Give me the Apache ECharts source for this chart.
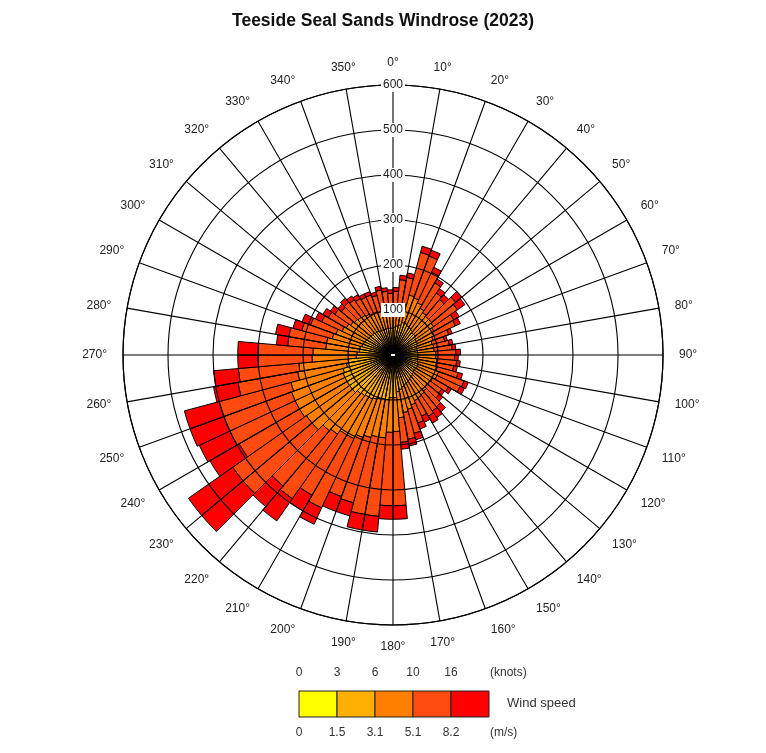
<!DOCTYPE html>
<html>
<head>
<meta charset="utf-8">
<script src="https://cdn.jsdelivr.net/npm/echarts@6/dist/echarts.min.js"></script>
<style>
html,body{margin:0;padding:0;background:#fff;}
#chart{width:766px;height:753px;}
</style>
</head>
<body>
<div id="chart"></div>
<script>
// 5-degree direction bins (start of bin, degrees)
var directions = ['0','5','10','15','20','25','30','35','40','45','50','55','60','65','70','75','80','85',
  '90','95','100','105','110','115','120','125','130','135','140','145','150','155','160','165','170','175',
  '180','185','190','195','200','205','210','215','220','225','230','235','240','245','250','255','260','265',
  '270','275','280','285','290','295','300','305','310','315','320','325','330','335','340','345','350','355'];

// counts per speed class
var calm = [12,12,12,13,13,13,12,12,12,12,12,12,12,11,11,11,11,11,
  11,11,11,12,12,12,12,12,12,12,12,12,13,13,14,14,15,18,
  18,19,19,20,20,20,20,20,20,20,20,20,20,20,20,20,19,18,
  18,16,16,15,14,13,13,12,12,12,12,12,12,12,12,12,12,12];
var light = [50,53,56,62,62,59,58,56,53,53,50,48,48,47,44,44,44,44,
  44,45,45,46,48,48,46,46,48,50,52,54,55,57,60,64,67,77,
  77,81,81,82,85,88,88,90,92,98,98,98,98,98,95,85,81,64,
  62,59,59,57,56,55,53,53,52,52,50,50,48,48,48,48,48,48];
var moderate = [38,43,47,63,60,56,50,47,47,47,48,45,40,37,35,37,37,40,
  40,42,42,44,48,48,44,42,40,43,44,44,44,48,51,52,58,75,
  77,85,85,88,90,97,97,105,108,117,117,122,122,122,120,110,110,98,
  98,75,75,68,65,57,54,50,48,46,46,43,42,42,40,42,40,40];
var fresh = [42,60,60,98,99,75,65,53,49,70,65,51,53,37,29,35,40,45,
  42,44,39,48,60,57,40,32,35,45,44,47,38,43,55,60,55,165,
  163,175,175,150,140,170,155,175,160,200,200,155,160,160,165,135,135,120,
  122,85,85,70,60,50,46,43,38,43,42,40,40,40,37,45,42,37];
var strong = [8,10,10,14,14,12,10,12,14,18,20,14,12,8,6,8,8,10,
  8,8,8,10,10,10,8,8,10,15,18,18,15,14,15,15,15,30,
  30,35,35,30,35,40,40,60,60,120,120,75,75,80,80,55,55,45,
  45,25,30,20,20,15,14,12,10,12,10,10,8,8,8,8,8,8];

var classNames = ['0-1.5 m/s','1.5-3.1 m/s','3.1-5.1 m/s','5.1-8.2 m/s','>8.2 m/s'];
var classColors = ['#FFFF00','#FFB000','#FF8000','#FF4A10','#FF0000'];
var classData = [calm, light, moderate, fresh, strong];

var knotTicks = ['0','3','6','10','16'];
var msTicks = ['0','1.5','3.1','5.1','8.2'];

var chart = echarts.init(document.getElementById('chart'));
var CX = 393, CY = 355, R = 270;
var font = 'Arial, "Liberation Sans", sans-serif';

var series = classData.map(function (d, i) {
  return {
    type: 'bar', coordinateSystem: 'polar', polarIndex: 0, stack: 'speed',
    name: classNames[i], data: d, barCategoryGap: '0%',
    itemStyle: { color: classColors[i], borderColor: '#000', borderWidth: 1 },
    z: 2
  };
});

// legend drawn as graphics
var graphics = [];
var lx = 299, ly = 691, lw = 38, lh = 26;
classColors.forEach(function (c, i) {
  graphics.push({ type: 'rect', shape: { x: lx + i * lw, y: ly, width: lw, height: lh },
    style: { fill: c, stroke: '#222', lineWidth: 1 } });
});
knotTicks.forEach(function (t, i) {
  graphics.push({ type: 'text', x: lx + i * lw, y: 673,
    style: { text: t, fill: '#333', font: '12px ' + font, textAlign: 'center', textVerticalAlign: 'middle' } });
});
msTicks.forEach(function (t, i) {
  graphics.push({ type: 'text', x: lx + i * lw, y: 733,
    style: { text: t, fill: '#333', font: '12px ' + font, textAlign: 'center', textVerticalAlign: 'middle' } });
});
graphics.push({ type: 'text', x: 490, y: 673, style: { text: '(knots)', fill: '#333', font: '12px ' + font, textAlign: 'left', textVerticalAlign: 'middle' } });
graphics.push({ type: 'text', x: 490, y: 733, style: { text: '(m/s)', fill: '#333', font: '12px ' + font, textAlign: 'left', textVerticalAlign: 'middle' } });
graphics.push({ type: 'text', x: 507, y: 703, style: { text: 'Wind speed', fill: '#333', font: '13px ' + font, textAlign: 'left', textVerticalAlign: 'middle' } });

chart.setOption({
  backgroundColor: '#fff',
  animation: false,
  title: {
    text: 'Teeside Seal Sands Windrose (2023)', left: 'center', top: 7,
    textStyle: { fontSize: 17.5, fontWeight: 'bold', color: '#111', fontFamily: font }
  },
  polar: [
    { center: [CX, CY], radius: [0, R] },
    { center: [CX, CY], radius: [0, R] }
  ],
  angleAxis: [
    { polarIndex: 0, type: 'category', data: directions, startAngle: 90, clockwise: true, boundaryGap: true,
      axisLine: { show: false }, axisTick: { show: false }, axisLabel: { show: false }, splitLine: { show: false } },
    { polarIndex: 1, type: 'value', min: 0, max: 360, interval: 10, startAngle: 90, clockwise: true, z: 10,
      axisLine: { show: true, lineStyle: { color: '#000', width: 1.2 } },
      axisTick: { show: false },
      splitLine: { show: true, lineStyle: { color: '#000', width: 1.1 } },
      axisLabel: { show: true, margin: 16, color: '#222', fontSize: 12, fontFamily: font,
        formatter: function (v) { return v === 360 ? '' : v + '°'; } } }
  ],
  radiusAxis: [
    { polarIndex: 0, type: 'value', min: 0, max: 600, show: false,
      axisLine: { show: false }, axisLabel: { show: false }, splitLine: { show: false }, axisTick: { show: false } },
    { polarIndex: 1, type: 'value', min: 0, max: 600, interval: 100, z: 11,
      axisLine: { show: false }, axisTick: { show: false },
      splitLine: { show: true, lineStyle: { color: '#000', width: 1.1 } },
      axisLabel: { show: true, margin: 0, align: 'center', verticalAlign: 'middle', color: '#222', fontSize: 12,
        fontFamily: font, backgroundColor: '#fff', padding: [1, 2],
        formatter: function (v) { return v === 0 ? '' : String(v); } } }
  ],
  graphic: graphics,
  series: series
});
</script>
</body>
</html>
